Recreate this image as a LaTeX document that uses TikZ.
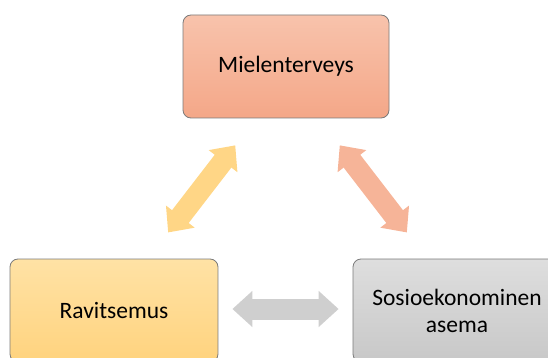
\documentclass[tikz,border=0pt]{standalone}
\usepackage{fontspec}
\setmainfont{Carlito}
\usepackage{tikz}
\usetikzlibrary{arrows.meta,positioning,calc}
\definecolor{mieTop}{HTML}{F8C3AC}
\definecolor{mieBot}{HTML}{F4A788}
\definecolor{ravTop}{HTML}{FFE2A5}
\definecolor{ravBot}{HTML}{FFD37E}
\definecolor{sosTop}{HTML}{DEDEDE}
\definecolor{sosBot}{HTML}{C8C8C8}
\definecolor{boxLine}{HTML}{7A7A7A}

\begin{document}
\begin{tikzpicture}[x=1pt,y=-1pt,
    font=\fontsize{23.5}{27}\selectfont,
    topic/.style={draw=boxLine,line width=0.8pt,rounded corners=8pt,
                  minimum width=206pt,minimum height=103pt,
                  inner sep=2pt,align=center},
    link/.style={line width=21pt,
                 {Triangle[length=20pt,width=35pt]}-{Triangle[length=20pt,width=35pt]}}]
  \useasboundingbox (0,0) rectangle (548,358);
  % the three boxes
  \node[topic,top color=mieTop,bottom color=mieBot] (mie) at (286,66.5) {Mielenterveys};
  \node[topic,minimum width=208pt,top color=ravTop,bottom color=ravBot] (rav) at (114,310.5) {Ravitsemus};
  \node[topic,minimum width=208pt,top color=sosTop,bottom color=sosBot] (sos) at (457,310.5) {Sosioekonominen\\asema};
  % two-way arrows
  \draw[link,color=ravBot!80!ravTop,shorten <=33pt,shorten >=34pt]
    ([xshift=34pt]rav.north) -- ([xshift=-30pt]mie.south);
  \draw[link,color=mieBot!55!mieTop,shorten <=34pt,shorten >=33pt]
    ([xshift=33pt]mie.south) -- ([xshift=-30pt]sos.north);
  \draw[link,color=sosBot!70!sosTop,shorten <=14pt,shorten >=14pt]
    ([yshift=1.5pt]rav.east) -- ([yshift=1.5pt]sos.west);
\end{tikzpicture}
\end{document}
